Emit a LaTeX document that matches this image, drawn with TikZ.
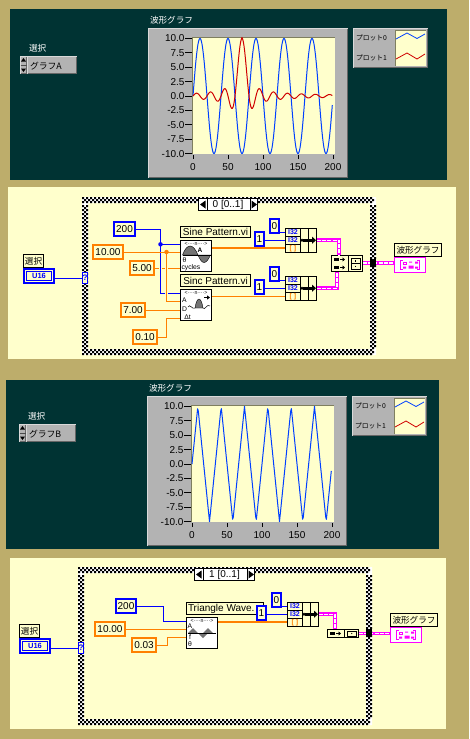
\documentclass[tikz,border=0pt]{standalone}
\usepackage{fontspec}
\setmainfont{Liberation Sans}
\newfontfamily\jp{Noto Sans CJK JP}
\usetikzlibrary{arrows.meta}
\definecolor{tan}{HTML}{BDAD6B}
\definecolor{dark}{HTML}{003333}
\definecolor{cream}{HTML}{FFFFCC}
\definecolor{panelgray}{HTML}{B3B3B3}
\definecolor{axisc}{HTML}{7F7F5F}
\definecolor{lvblue}{HTML}{0000FF}
\definecolor{lvorange}{HTML}{FF8000}
\definecolor{lvpink}{HTML}{FF00FF}
\definecolor{plotblue}{HTML}{0040FF}
\definecolor{plotred}{HTML}{D00000}
\tikzset{
  tx/.style={inner sep=0pt,outer sep=0pt},
  numf/.style={font=\fontsize{10}{11}\selectfont},
  plain/.style={draw=black,line width=0.9pt,fill=white,inner sep=0pt,outer sep=0pt},
  lab/.style={draw=black,line width=0.9pt,fill=cream,inner sep=0pt,outer sep=0pt},
  bluec/.style={draw=lvblue,line width=1.8pt,fill=cream,inner sep=0pt,outer sep=0pt,numf},
  orangec/.style={draw=lvorange,line width=1.8pt,fill=cream,inner sep=0pt,outer sep=0pt,numf},
  bw/.style={draw=lvblue,line width=0.8pt},
  ow/.style={draw=lvorange,line width=0.8pt},
  owthick/.style={draw=lvorange,line width=1.8pt},
  halo/.style={preaction={draw=cream,line width=3pt}},
  pinkw/.style={draw=lvpink,line width=3.6pt,postaction={draw=white,line width=1.2pt,dash pattern=on 4pt off 1.2pt}},
  dotb/.style={circle,fill=lvblue,minimum size=4.5pt,inner sep=0pt},
  doto/.style={circle,fill=lvorange,minimum size=4.5pt,inner sep=0pt},
  icon/.style={draw=black,line width=0.9pt,fill=white,inner sep=0pt,outer sep=0pt},
  icot/.style={inner sep=0pt,outer sep=0pt,font=\fontsize{6.8}{7}\selectfont},
  icotop/.style={inner sep=0pt,outer sep=0pt,font=\fontsize{5.2}{6}\selectfont},
  ticklab/.style={inner sep=0pt,outer sep=0pt,font=\fontsize{10}{11}\selectfont},
  hump/.style={fill=black!55,draw=black,line width=0.4pt},
  wave0/.style={plotblue,line width=1pt,line join=round},
  wave1/.style={plotred,line width=1pt,line join=round},
  tunnelb/.style={fill=black,inner sep=0pt,outer sep=0pt},
  declare function={trip(\p)=(\p<0.25)?(4*\p):((\p<0.75)?(2-4*\p):(4*\p-4));}
}
% box given by its outer corners
\newcommand{\pbx}[7]{\node[#1,minimum width={(#5-#3)*1pt-\pgflinewidth},minimum height={(#6-#4)*1pt-\pgflinewidth}] (#2) at ({(#3+#5)/2},{(#4+#6)/2}) {#7};}
% raised grey box
\newcommand{\raised}[4]{%
  \fill[panelgray] (#1,#2) rectangle (#3,#4);
  \draw[white!85!black,line width=1pt] (#1+.5,#4-.5) -- (#1+.5,#2+.5) -- (#3-.5,#2+.5);
  \draw[black!60,line width=1pt] (#1+.5,#4-.5) -- (#3-.5,#4-.5) -- (#3-.5,#2+.5);
}
% checkered case border: 294 x 158, in 2-unit squares, three squares wide
\newcommand{\caseframe}[2]{%
  \fill[white,even odd rule] (#1,#2) rectangle (#1+294,#2+158) (#1+6,#2+6) rectangle (#1+288,#2+152);
  \foreach \r/\o in {0/0,1/2,2/0}{
    \fill[black] \foreach \c in {0,2,...,144}{
      ({#1+2*\c+\o},{#2+2*\r}) rectangle ++(2,2)
      ({#1+2*\c+\o},{#2+152+2*\r}) rectangle ++(2,2)
    };
    \fill[black] \foreach \c in {4,6,...,74}{
      ({#1+2*\r},{#2+2*\c+\o}) rectangle ++(2,2)
      ({#1+288+2*\r},{#2+2*\c+\o}) rectangle ++(2,2)
    };
  }
}
% front panel, drawn at the position of the first one
\newcommand{\frontpanel}[5]{%
 \begin{scope}[shift={(#2,#3)}]
  \node[tx,anchor=west,text=white,font=\jp\fontsize{8.6}{10}\selectfont] (#1title) at (150,20) {波形グラフ};
  \node[tx,anchor=west,text=white,font=\jp\fontsize{8.6}{10}\selectfont] (#1sel) at (29,48) {選択};
  % selector
  \raised{20}{56}{27}{74}
  \fill (23.5,58) -- (21,61.5) -- (26,61.5) -- cycle;
  \fill (21,68.5) -- (26,68.5) -- (23.5,72) -- cycle;
  \draw[black!70,line width=.8pt] (20.5,65) -- (26.5,65);
  \raised{27}{56}{77}{74}
  \node[tx,anchor=west,font=\jp\fontsize{8.8}{10}\selectfont] (#1val) at (30,66) {#4};
  % graph frame
  \raised{148}{28}{348}{178}
  \fill[cream] (192.5,37.5) rectangle (334.5,154);
  \draw[axisc,line width=1.1pt] (192.5,154) -- (192.5,37.5) -- (334.5,37.5);
  \foreach \v/\t in {10/10.0,7.5/7.5,5/5.0,2.5/2.5,0/0.0,-2.5/-2.5,-5/-5.0,-7.5/-7.5,-10/-10.0}{
    \draw[black,line width=.8pt] (185,{96-5.76*\v}) -- (192,{96-5.76*\v});
    \node[ticklab,anchor=east] at (184.5,{96-5.76*\v}) {\t};
  }
  \foreach \v in {0,50,100,150,200}{
    \draw[black,line width=.8pt] ({193+.7*\v},155) -- ({193+.7*\v},159);
    \node[ticklab] at ({193+.7*\v},167.5) {\v};
  }
  #5
  % legend
  \raised{353}{28}{428}{68}
  \fill[cream] (395.5,30.5) rectangle (426,66);
  \draw[axisc,line width=1pt] (395.5,66) -- (395.5,30.5) -- (426,30.5);
  \node[tx,anchor=west,font=\jp\fontsize{6.8}{8}\selectfont] (#1leg0) at (356,38) {プロット0};
  \node[tx,anchor=west,font=\jp\fontsize{6.8}{8}\selectfont] (#1leg1) at (356,58) {プロット1};
  \draw[wave0,line width=.8pt] (396,39) -- (407,33) -- (417,38.5) -- (425,34);
  \draw[wave1,line width=.8pt] (396,59) -- (407,53) -- (417,59) -- (425,54);
 \end{scope}
}
% sequence selector at the top of the case
\newcommand{\caseselect}[5]{%
  \pbx{plain,font=\fontsize{10}{11}\selectfont}{#1}{#2}{#3}{#4}{#3+13}{}
  \node[tx,font=\fontsize{10}{11}\selectfont] at (#1.center) {#5};
  \draw[black,line width=.9pt] (#2+9,#3) -- (#2+9,#3+13) (#4-8,#3) -- (#4-8,#3+13);
  \fill (#2+2,#3+6.5) -- (#2+7.5,#3+2.5) -- (#2+7.5,#3+10.5) -- cycle;
  \fill (#4-1,#3+6.5) -- (#4-6.5,#3+2.5) -- (#4-6.5,#3+10.5) -- cycle;
}
% terminal U16
\newcommand{\uterm}[3]{%
  \pbx{draw=lvblue,line width=1.8pt,fill=cream,inner sep=0pt,outer sep=0pt}{#1}{#2}{#3}{#2+32}{#3+16}{}
  \draw[lvblue,line width=.8pt] (#2+3.5,#3+3.5) rectangle (#2+28.5,#3+12.5);
  \node[tx,text=lvblue,font=\bfseries\fontsize{7.5}{8}\selectfont] at (#1.center) {U16};
}
% array build block with constants wired in
\newcommand{\bundlenode}[3]{%
  \pbx{draw=black,line width=.9pt,fill=cream,inner sep=0pt,outer sep=0pt}{#1}{#2}{#3}{#2+32}{#3+25}{}
  \draw[black,line width=.9pt] (#2+15.7,#3) -- (#2+15.7,#3+25) (#2+23,#3) -- (#2+23,#3+25)
     (#2,#3+8.2) -- (#2+15.7,#3+8.2) (#2,#3+16.2) -- (#2+15.7,#3+16.2);
  \node[tx,text=lvblue,font=\bfseries\fontsize{7}{7}\selectfont] at (#2+8,#3+4.2) {I32};
  \node[tx,text=lvblue,font=\bfseries\fontsize{7}{7}\selectfont] at (#2+8,#3+12.2) {I32};
  \node[tx,text=lvorange,font=\bfseries\fontsize{7}{7}\selectfont] at (#2+8,#3+20.4) {[ ]};
  \draw[black,line width=3pt,-{Triangle[length=4pt,width=7pt]}] (#2+18,#3+12.2) -- (#2+31,#3+12.2);
  \fill (#2+17,#3+12.2) circle (1.7pt);
}
% graph indicator
\newcommand{\graphind}[3]{%
  \pbx{draw=lvpink,line width=1pt,fill=white,inner sep=0pt,outer sep=0pt}{#1}{#2}{#3}{#2+32}{#3+16}{}
  \draw[lvpink,line width=1pt] (#2+9,#3+3.5) -| (#2+6.5,#3+12.5) -- (#2+9,#3+12.5)
     (#2+23,#3+3.5) -| (#2+25.5,#3+12.5) -- (#2+23,#3+12.5);
  \fill[lvpink] (#2+9,#3+9.5) rectangle (#2+12,#3+11.5) (#2+14.5,#3+8.5) rectangle (#2+19.5,#3+11.5)
     (#2+21,#3+9.5) rectangle (#2+24,#3+11.5) (#2+15,#3+4.5) rectangle (#2+18,#3+5.5)
     (#2+21,#3+4.5) rectangle (#2+24,#3+6.5);
  \draw[lvpink,line width=.6pt] (#2+9.3,#3+4.8) rectangle (#2+12.5,#3+7);
}
\newcommand{\qtunnel}[3]{%
  \pbx{draw=lvblue,line width=.9pt,fill=cream,inner sep=0pt,outer sep=0pt}{#1}{#2}{#3}{#2+6}{#3+12}{}
  \node[tx,text=lvblue,font=\bfseries\fontsize{8}{9}\selectfont] at (#1.center) {?};
}
\newcommand{\rowarrow}[2]{%
  \fill (#1,#2-1.2) rectangle (#1+4.5,#2+1.2);
  \draw[black,line width=.8pt,-{Triangle[length=2.5pt,width=4pt]}] (#1+6,#2) -- (#1+11,#2);
}
\begin{document}
\begin{tikzpicture}[x=1pt,y=-1pt]
\useasboundingbox (0,0) rectangle (469,739);
\fill[tan] (0,0) rectangle (469,739);
\fill[dark] (10,9) rectangle (447,180);
\fill[cream] (8,187) rectangle (456,359);
\fill[dark] (6,380) rectangle (439,549);
\fill[cream] (10,558) rectangle (446,729);

\frontpanel{fa}{0}{0}{グラフA}{%
  \draw[wave0] plot[domain=0:199,samples=200] ({193+.7*\x},{96-57.6*sin(9*\x)});
  \draw[wave1] plot[domain=0:199,samples=200] ({193+.7*\x},{96-5.76*10*sin(18*(\x-70.001))/(0.314159*(\x-70.001))});
}
\frontpanel{fb}{-1}{368}{グラフB}{%
  \draw[wave0] plot[domain=0:199,samples=200] ({193+.7*\x},{96-57.6*trip(mod(0.03*\x,1))});
}

%% ---------- first diagram
\caseframe{82}{197}
\caseselect{sela}{198}{198}{258}{0 [0..1]}
\coordinate (sineN) at (180,244.3);
\coordinate (sineA) at (180,252);
\coordinate (sineC) at (180,268);
\coordinate (sincN) at (180,293);
\coordinate (sincA) at (180,301);
\coordinate (sincD) at (180,310);
\coordinate (sincT) at (180,318);
\coordinate (ja) at (160.5,244.3);
\coordinate (jb) at (166.5,252);
\coordinate (jc) at (166.5,337);
\coordinate (bt1) at (285,232);
\coordinate (bn1) at (285,240.2);
\coordinate (ba1) at (285,248);
\coordinate (bt2) at (285,280);
\coordinate (bn2) at (285,288.2);
\coordinate (ba2) at (285,296.5);
\coordinate (bo1) at (317,240.2);
\coordinate (bo2) at (317,288.2);
\coordinate (mt) at (339,255);
\coordinate (mb) at (337,272);
\coordinate (mo) at (363,263);
\coordinate (sineO) at (212,248);
\coordinate (sincO) at (212,296.5);
\coordinate (gain) at (394,263);
\pbx{bluec}{c200a}{113}{221}{136}{237}{200}
\pbx{orangec}{c10a}{92}{244}{124}{260}{10.00}
\pbx{orangec}{c5a}{129}{260}{155}{276}{5.00}
\pbx{orangec}{c7a}{120}{302}{146}{318}{7.00}
\pbx{orangec}{c01a}{132}{329}{158}{345}{0.10}
\uterm{ua}{23}{268}
\pbx{lab,font=\jp\fontsize{8.6}{10}\selectfont}{ula}{23}{254}{44}{268}{選択}
\qtunnel{qa}{82}{272}
\draw[bw] (ua.east |- qa.west) -- (qa.west);
\draw[ow] (c5a.east) -- (sineC);
\draw[ow] (c7a.east) -- (sincD);
\draw[ow] (c01a.east) -- (jc) |- (sincT);
\draw[ow] (c10a.east) -- (sineA);
\draw[bw] (c200a.east) -| (ja) -- (sineN);
\draw[bw,halo] (ja) |- (sincN);
\draw[ow,halo] (jb) |- (sincA);
\draw[bw] (ja) -- (sineN);
\draw[ow] (c10a.east) -- (sineA);
\node[dotb] (dja) at (ja) {};
\node[doto] (djb) at (jb) {};
\draw[owthick] (sineO) -- (ba1);
\draw[owthick] (sincO) -- (ba2);
\pbx{lab,font=\fontsize{10}{11}\selectfont}{sinel}{180}{226}{251}{238}{Sine Pattern.vi}
\pbx{icon}{sinei}{180}{240}{212}{272}{}
\pbx{lab,font=\fontsize{10}{11}\selectfont}{sincl}{180}{274}{251}{287}{Sinc Pattern.vi}
\pbx{icon}{sinci}{180}{289}{212}{321}{}
\node[icotop] (sinet) at (196,243.5) {<····n····>};
\draw[hump] (182.5,255) .. controls (187,243) and (193,243) .. (198,255) -- cycle;
\draw[hump] (198,255) .. controls (202,265) and (206,265) .. (210.5,255) -- cycle;
\draw[black,line width=.5pt] (182.5,255) -- (210.5,255);
\node[tx,fill=white,font=\bfseries\fontsize{6.5}{7}\selectfont] (sinea) at (200,250.5) {A};
\node[icot] (sineth) at (184.5,260) {θ};
\node[icot,anchor=west] (sinec) at (181.5,267.5) {cycles};
\node[icotop] (sinct) at (196,293) {<····n····>};
\node[icot] (sinca) at (184.5,300.5) {A};
\node[icot] (sincd) at (184.5,309.5) {D};
\node[icot] (sincdt) at (187.5,317.5) {Δt};
\draw[hump] (195,308) .. controls (197,296) and (201,296) .. (203,308) -- cycle;
\draw[black,line width=.5pt] (188,307) .. controls (190,303) and (192,310) .. (195,308) (203,308) .. controls (205,311) and (207,303) .. (210,306);
\draw[black,line width=1pt,-{Triangle[length=3pt,width=4pt]}] (204,297.5) -- (210,297.5);
\pbx{bluec}{c0a}{269}{218}{280}{234}{0}
\pbx{bluec}{c1a}{254}{231}{265}{247}{1}
\pbx{bluec}{c0b}{269}{266}{280}{282}{0}
\pbx{bluec}{c1b}{254}{279}{265}{295}{1}
\draw[bw] (c0a.east |- bt1) -- (bt1);
\draw[bw] (c1a.east |- bn1) -- (bn1);
\draw[bw] (c0b.east |- bt2) -- (bt2);
\draw[bw] (c1b.east |- bn2) -- (bn2);
\bundlenode{ba}{285}{228}
\bundlenode{bb}{285}{276}
\pbx{draw=black,line width=.9pt,fill=cream,inner sep=0pt,outer sep=0pt}{ma}{331}{255}{363}{272}{}
\draw[black,line width=.9pt] (348,255) -- (348,272);
\rowarrow{334}{259.5}
\rowarrow{334}{267.5}
\draw[black,line width=.7pt] (351,258) rectangle (360,269) (351,263.5) -- (360,263.5) (355.5,260) -- (355.5,261.5) (355.5,265.5) -- (355.5,267);
\draw[pinkw] (bo1) -| (mt);
\draw[pinkw] (bo2) -| (mb);
\graphind{ga}{394}{257}
\pbx{lab,font=\jp\fontsize{8.6}{10}\selectfont}{gla}{394}{243}{442}{257}{波形グラフ}
\draw[pinkw] (mo) -- (gain);
\pbx{tunnelb}{ta}{370}{259}{376}{267}{}

%% ---------- second diagram
\caseframe{78}{567}
\caseselect{selb}{194}{568}{255}{1 [0..1]}
\coordinate (triN) at (186,621);
\coordinate (triA) at (186,629);
\coordinate (triF) at (186,637);
\coordinate (jd) at (163,606);
\coordinate (je) at (167,645);
\coordinate (triO) at (218,622);
\coordinate (bt3) at (287,606);
\coordinate (bn3) at (287,614.2);
\coordinate (ba3) at (287,622);
\coordinate (bo3) at (319,614.2);
\coordinate (mt2) at (335,629);
\coordinate (mo2) at (359,633.5);
\coordinate (gain2) at (390,633.5);
\pbx{bluec}{c200b}{115}{598}{137}{614}{200}
\pbx{orangec}{c10b}{94}{621}{126}{637}{10.00}
\pbx{orangec}{c03b}{131}{637}{157}{653}{0.03}
\uterm{ub}{19}{638}
\pbx{lab,font=\jp\fontsize{8.6}{10}\selectfont}{ulb}{19}{624}{40}{638}{選択}
\qtunnel{qb}{78}{642}
\draw[bw] (ub.east |- qb.west) -- (qb.west);
\draw[bw] (c200b.east) -- (jd) |- (triN);
\draw[ow] (c10b.east) -- (triA);
\draw[ow] (c03b.east) -- (je) |- (triF);
\draw[owthick] (triO) -- (ba3);
\pbx{lab}{tril}{186}{602}{264}{615}{}
\node[tx,anchor=west,font=\fontsize{10}{11}\selectfont] (trilt) at (188,608.5) {Triangle Wave.};
\pbx{icon}{trii}{186}{617}{218}{649}{}
\node[icotop] (trit) at (202,621) {<····n····>};
\node[icot] (tria) at (190,626.5) {A};
\node[icot] (trif) at (190,637.5) {f};
\node[icot] (trith) at (190,644) {θ};
\fill[black!55] (188,633) -- (193,628) -- (198,633) -- cycle (203,633) -- (208,628) -- (213,633) -- cycle
  (198,633) -- (203,638) -- (208,633) -- cycle;
\draw[black,line width=.5pt] (188,633) -- (216,633);
\pbx{bluec}{c0c}{271}{592}{282}{608}{0}
\pbx{bluec}{c1c}{256}{605}{267}{621}{1}
\draw[bw] (c0c.east |- bt3) -- (bt3);
\draw[bw] (c1c.east |- bn3) -- (bn3);
\bundlenode{bc}{287}{602}
\pbx{draw=black,line width=.9pt,fill=cream,inner sep=0pt,outer sep=0pt}{mc}{327}{629}{359}{638}{}
\draw[black,line width=.9pt] (344,629) -- (344,638);
\rowarrow{330}{633.5}
\draw[black,line width=.7pt] (347.5,631) rectangle (356,636);
\fill (351.7,633.5) circle (.6pt);
\draw[pinkw] (bo3) -| (mt2);
\graphind{gb}{390}{627}
\pbx{lab,font=\jp\fontsize{8.6}{10}\selectfont}{glb}{390}{613}{438}{627}{波形グラフ}
\draw[pinkw] (mo2) -- (gain2);
\pbx{tunnelb}{tb}{366}{629}{372}{637}{}
\end{tikzpicture}
\end{document}
